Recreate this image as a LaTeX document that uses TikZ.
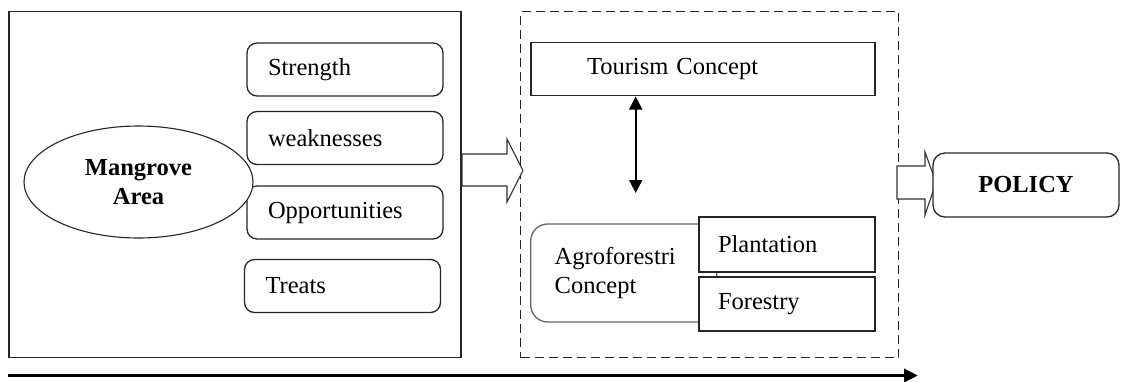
\documentclass[tikz,border=0pt]{standalone}
\usepackage{fontspec}
\setmainfont{Liberation Serif}
\usetikzlibrary{arrows.meta,shapes.geometric}
\newcommand{\fsz}{\fontsize{24.5}{29.4}\selectfont}
\tikzset{
  frame/.style={draw=black!85, line width=1.3pt},
  txtbox/.style={frame, fill=white, align=left, inner ysep=0pt, font=\fsz, anchor=center},
  swot/.style={txtbox, rounded corners=10pt, minimum width=196pt, minimum height=53pt, inner xsep=21pt, text width=154pt},
  subbox/.style={txtbox, minimum width=176pt, minimum height=55pt, inner xsep=19pt, text width=138pt},
  hollow/.style={draw=black!80, line width=1.1pt, fill=white, line join=miter},
  link/.style={line width=1.8pt, {Triangle[length=13pt,width=13pt]}-{Triangle[length=13pt,width=13pt]}},
  timeline/.style={line width=3.5pt, -{Triangle[length=14pt,width=13pt]}}
}
\begin{document}
\begin{tikzpicture}[x=1pt,y=-1pt]
\useasboundingbox (0,0) rectangle (1122,381);
% left frame
\node[frame, minimum width=452pt, minimum height=346pt, anchor=north west, inner sep=0pt] (left) at (8.3,11) {};
% dashed frame
\node[frame, dash pattern=on 9pt off 5pt, line width=1.4pt, minimum width=378pt, minimum height=346pt, anchor=north west, inner sep=0pt] (mid) at (520,11) {};
% SWOT boxes
\node[swot] (str) at (345,69.5) {Strength};
\node[swot] (weak) at (345,138) {weaknesses};
\node[swot] (opp) at (345,212.5) {Opportunities};
\node[swot] (tre) at (342.5,286) {Treats};
% ellipse
\node[ellipse, draw=black!85, line width=1.1pt, fill=white, minimum width=229pt, minimum height=112pt, inner sep=0pt, align=center, font=\fsz\bfseries] (mang) at (138.5,182) {Mangrove\\Area};
% hollow arrow left -> mid
\draw[hollow] (462,154) -- (507,154) -- (507,139) -- (523,170.5) -- (507,202) -- (507,186) -- (462,186) -- cycle;
% tourism
\node[txtbox, minimum width=344pt, minimum height=53pt, inner xsep=56pt, text width=232pt] (tour) at (703,69.2) {Tourism Concept};
% agroforestri
\node[txtbox, draw=black!60, rounded corners=17pt, minimum width=186pt, minimum height=98pt, inner xsep=24pt, text width=138pt] (agro) at (623.7,273) {Agroforestri\\Concept\\[-10pt]};
\node[subbox] (plan) at (787,244.5) {Plantation};
\node[subbox, minimum height=54pt] (fore) at (787,304) {Forestry};
% double arrow
\coordinate (dtop) at (635.7,96.5);
\coordinate (dbot) at (635.7,193);
\draw[link] (dtop) -- (dbot);
% hollow arrow mid -> policy
\draw[hollow] (897,166) -- (925,166) -- (925,152) -- (936,182.5) -- (925,215) -- (925,199) -- (897,199) -- cycle;
% policy
\node[txtbox, rounded corners=12pt, minimum width=186pt, minimum height=64pt, inner xsep=0pt, align=center, font=\fsz\bfseries] (pol) at (1026,185) {POLICY};
% timeline
\coordinate (ts) at (8,375.5);
\coordinate (te) at (918,375.5);
\draw[timeline] (ts) -- (te);
\end{tikzpicture}
\end{document}
